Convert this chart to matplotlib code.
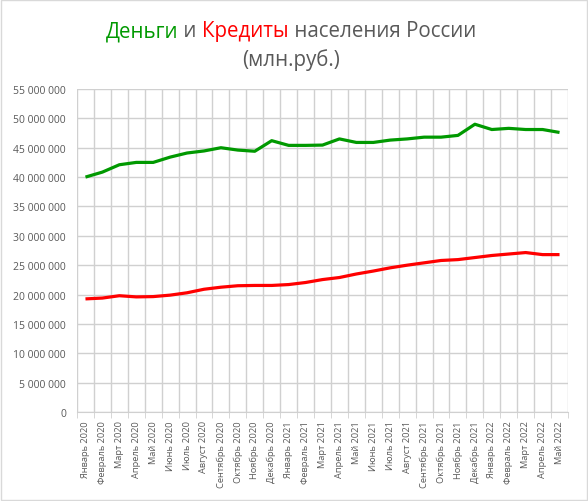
import matplotlib
matplotlib.use("Agg")
import matplotlib.pyplot as plt
from matplotlib.ticker import FuncFormatter, FixedLocator
import numpy as np

plt.rcParams['font.family'] = ['Open Sans', 'DejaVu Sans']

months = ['Январь 2020', 'Февраль 2020', 'Март 2020', 'Апрель 2020', 'Май 2020',
          'Июнь 2020', 'Июль 2020', 'Август 2020', 'Сентябрь 2020', 'Октябрь 2020',
          'Ноябрь 2020', 'Декабрь 2020', 'Январь 2021', 'Февраль 2021', 'Март 2021',
          'Апрель 2021', 'Май 2021', 'Июнь 2021', 'Июль 2021', 'Август 2021',
          'Сентябрь 2021', 'Октябрь 2021', 'Ноябрь 2021', 'Декабрь 2021',
          'Январь 2022', 'Февраль 2022', 'Март 2022', 'Апрель 2022', 'Май 2022']

# млн руб.
money = [40.0, 40.85, 42.1, 42.5, 42.5, 43.4, 44.1, 44.45, 45.0, 44.6,
         44.4, 46.2, 45.4, 45.4, 45.45, 46.5, 45.9, 45.9, 46.3, 46.5,
         46.8, 46.8, 47.1, 49.0, 48.1, 48.3, 48.1, 48.1, 47.6]
credits = [19.26, 19.4, 19.8, 19.6, 19.65, 19.9, 20.3, 20.9, 21.25, 21.5,
           21.55, 21.55, 21.7, 22.05, 22.55, 22.9, 23.5, 24.0, 24.55, 25.0,
           25.4, 25.8, 25.95, 26.3, 26.65, 26.9, 27.15, 26.8, 26.8]

money = np.array(money) * 1e6
credits = np.array(credits) * 1e6

fig = plt.figure(figsize=(5.88, 5.02), dpi=100)
ax = fig.add_axes([77 / 588, 1 - 413 / 502, (568 - 77) / 588, (413 - 90) / 502])

x = np.arange(len(months))
ax.plot(x, money, color='#009900', lw=2.3, solid_capstyle='butt')
ax.plot(x, credits, color='#ff0000', lw=2.3, solid_capstyle='butt')

ax.set_xlim(-0.5, len(months) - 0.5)
ax.set_ylim(0, 55e6)
ax.set_yticks(np.arange(0, 55e6 + 1, 5e6))
ax.yaxis.set_major_formatter(FuncFormatter(lambda v, p: f"{int(v):,}".replace(',', ' ')))
ax.set_xticks(x)
ax.set_xticklabels(months, rotation=90, fontsize=6.7, color='#595959')
ax.xaxis.set_minor_locator(FixedLocator(np.arange(-0.5, len(months), 1)))
ax.tick_params(axis='x', which='major', length=0, pad=6)
ax.tick_params(axis='x', which='minor', length=4, color='#d0d0d0')
ax.tick_params(axis='y', length=0, labelsize=7.5, labelcolor='#595959', pad=8)

ax.grid(True, axis='y', color='#d0d0d0', lw=1)
ax.grid(True, axis='x', which='minor', color='#d0d0d0', lw=1)
ax.set_axisbelow(True)
for s in ['top', 'right', 'left']:
    ax.spines[s].set_visible(False)
ax.spines['bottom'].set_color('#d0d0d0')

# заголовок разными цветами
parts = [('Деньги', '#009900'), (' и ', '#595959'), ('Кредиты', '#ff0000'),
         (' населения России', '#595959')]
fig.canvas.draw()
r = fig.canvas.get_renderer()
texts = []
for s, c in parts:
    t = fig.text(0, 1 - 32 / 502, s, color=c, fontsize=14.8, va='center', ha='left')
    texts.append(t)
widths = [t.get_window_extent(r).width for t in texts]
total = sum(widths)
xpos = (291 - total / 2)
for t, w in zip(texts, widths):
    t.set_x(xpos / 588)
    xpos += w
fig.text(291 / 588, 1 - 60 / 502, '(млн.руб.)', color='#595959', fontsize=14.8,
         ha='center', va='center')

# рамка диаграммы
fig.patches.append(plt.Rectangle((0.002, 0.002), 0.996, 0.996, transform=fig.transFigure,
                                 fill=False, edgecolor='#d9d9d9', lw=1))

fig.savefig('out.png', dpi=100)
